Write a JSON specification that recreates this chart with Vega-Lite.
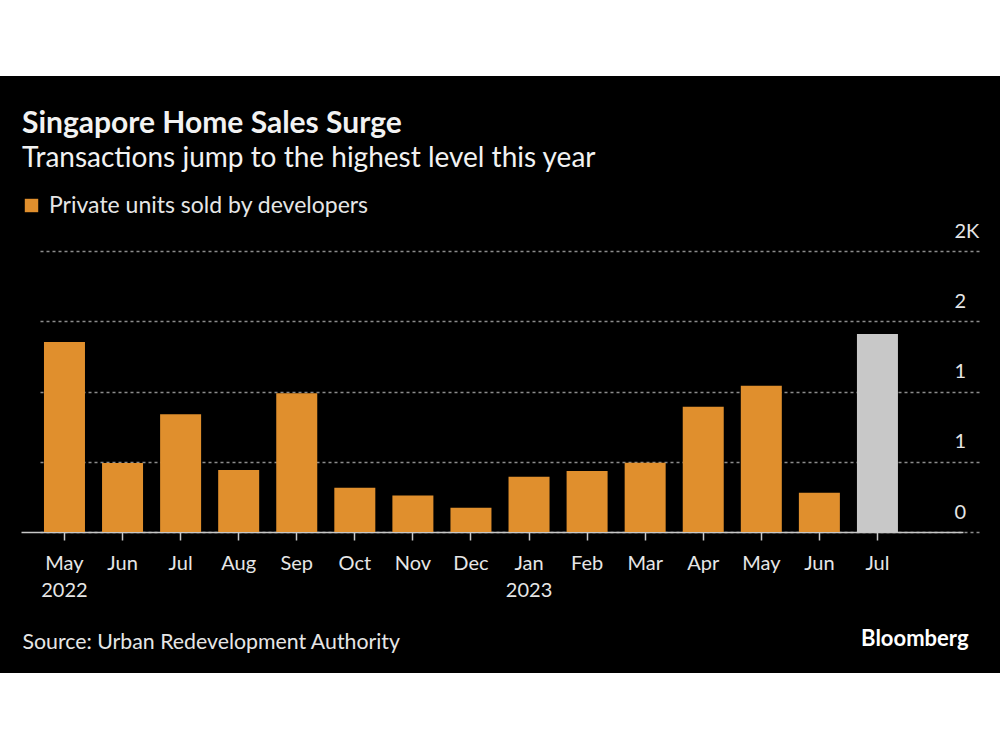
{
  "$schema": "https://vega.github.io/schema/vega-lite/v6.json",
  "width": 1000,
  "height": 597,
  "padding": {"top": 76, "bottom": 77, "left": 0, "right": 0},
  "autosize": {"type": "pad"},
  "background": "#ffffff",
  "config": {
    "view": {"fill": "#000000", "stroke": null},
    "font": "Lato"
  },
  "title": {
    "text": "Singapore Home Sales Surge",
    "subtitle": "Transactions jump to the highest level this year",
    "anchor": "start",
    "frame": "group",
    "orient": "top",
    "offset": -97,
    "dx": 22,
    "font": "Lato",
    "fontSize": 30,
    "fontWeight": "bold",
    "color": "#f2f2f2",
    "subtitleFont": "Lato",
    "subtitleFontSize": 28,
    "subtitleColor": "#f2f2f2",
    "subtitlePadding": 6
  },
  "data": {
    "values": [
      {"month": "May 2022", "units": 1353, "series": "Private units sold by developers"},
      {"month": "Jun 2022", "units": 491, "series": "Private units sold by developers"},
      {"month": "Jul 2022", "units": 838, "series": "Private units sold by developers"},
      {"month": "Aug 2022", "units": 442, "series": "Private units sold by developers"},
      {"month": "Sep 2022", "units": 988, "series": "Private units sold by developers"},
      {"month": "Oct 2022", "units": 316, "series": "Private units sold by developers"},
      {"month": "Nov 2022", "units": 261, "series": "Private units sold by developers"},
      {"month": "Dec 2022", "units": 173, "series": "Private units sold by developers"},
      {"month": "Jan 2023", "units": 394, "series": "Private units sold by developers"},
      {"month": "Feb 2023", "units": 434, "series": "Private units sold by developers"},
      {"month": "Mar 2023", "units": 494, "series": "Private units sold by developers"},
      {"month": "Apr 2023", "units": 893, "series": "Private units sold by developers"},
      {"month": "May 2023", "units": 1042, "series": "Private units sold by developers"},
      {"month": "Jun 2023", "units": 280, "series": "Private units sold by developers"},
      {"month": "Jul 2023", "units": 1410, "series": "Latest"}
    ]
  },
  "mark": {"type": "bar"},
  "encoding": {
    "x": {
      "field": "month",
      "type": "nominal",
      "sort": null,
      "scale": {"range": [21, 963], "paddingInner": 0.294, "paddingOuter": 0.758, "align": 0.261, "round": false},
      "axis": {
        "orient": "bottom",
        "offset": -141,
        "grid": false,
        "domainColor": "#c8c8c8",
        "domainWidth": 1.5,
        "tickColor": "#c8c8c8",
        "tickSize": 8,
        "tickWidth": 1.5,
        "labelFont": "Lato",
        "labelFontSize": 20,
        "labelColor": "#e6e6e6",
        "labelPadding": 13,
        "labelAngle": 0,
        "labelLineHeight": 27,
        "labelExpr": "datum.value == 'May 2022' || datum.value == 'Jan 2023' ? split(datum.value, ' ') : slice(datum.value, 0, 3)",
        "title": "Source: Urban Redevelopment Authority",
        "titleX": 22,
        "titleY": 116,
        "titleAlign": "left",
        "titleAnchor": "start",
        "titleBaseline": "alphabetic",
        "titleFont": "Lato",
        "titleFontSize": 21.3,
        "titleFontWeight": "normal",
        "titleColor": "#e6e6e6"
      }
    },
    "y": {
      "field": "units",
      "type": "quantitative",
      "scale": {"domain": [-1004, 3248], "nice": false, "zero": false},
      "axis": {
        "orient": "right",
        "offset": -46,
        "values": [0, 500, 1000, 1500, 2000],
        "domain": false,
        "ticks": false,
        "grid": true,
        "gridColor": "#8c8c8c",
        "gridDash": [3, 3],
        "gridWidth": 1.5,
        "labelAlign": "left",
        "labelBaseline": "alphabetic",
        "labelOffset": -14,
        "labelPadding": 0,
        "labelFont": "Lato",
        "labelFontSize": 20,
        "labelColor": "#e6e6e6",
        "labelExpr": "datum.value == 2000 ? '2K' : datum.value == 1500 ? '2' : datum.value == 0 ? '0' : '1'",
        "title": "Bloomberg",
        "titleAngle": 0,
        "titleX": 14,
        "titleY": 569,
        "titleAlign": "right",
        "titleBaseline": "alphabetic",
        "titleFont": "Lato",
        "titleFontSize": 22,
        "titleFontWeight": "bold",
        "titleColor": "#ffffff"
      }
    },
    "y2": {"datum": 0},
    "color": {
      "field": "series",
      "type": "nominal",
      "scale": {"domain": ["Private units sold by developers", "Latest"], "range": ["#E08F2D", "#C8C8C8"]},
      "legend": {
        "orient": "none",
        "legendX": 20,
        "legendY": 118,
        "title": null,
        "values": ["Private units sold by developers"],
        "symbolType": "square",
        "symbolSize": 180,
        "symbolStrokeWidth": 0,
        "symbolOpacity": 1,
        "labelFont": "Lato",
        "labelFontSize": 23,
        "labelLimit": 0,
        "labelColor": "#e6e6e6",
        "labelOffset": 6,
        "padding": 0
      }
    }
  }
}
